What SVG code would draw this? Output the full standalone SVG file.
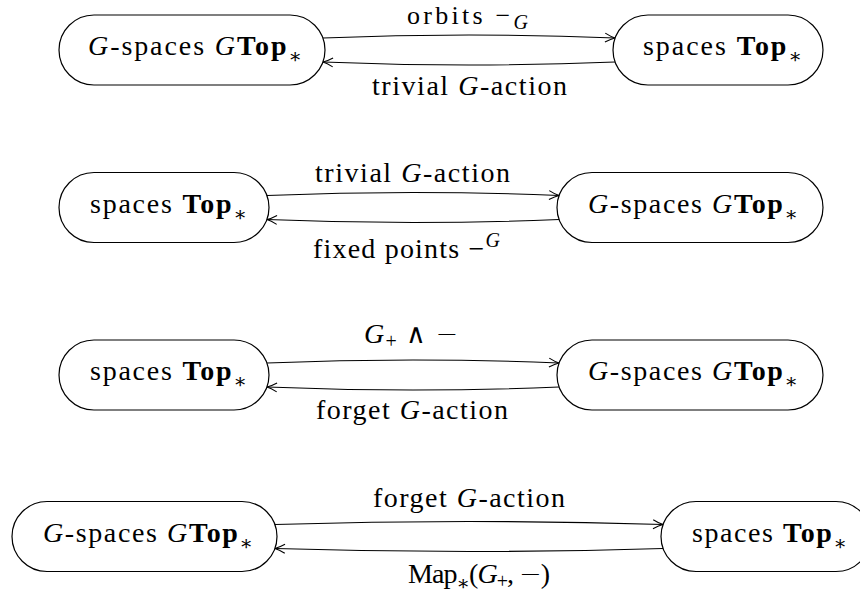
<svg xmlns="http://www.w3.org/2000/svg" width="860" height="594" viewBox="0 0 860 594">
<style>
  .node { fill: #fff; stroke: #000; stroke-width: 1.2; }
  .edge { fill: none; stroke: #000; stroke-width: 1.1; marker-end: url(#arr); }
  text { font-family: "Liberation Serif", "DejaVu Serif", serif; font-size: 28px; fill: #000; }
  .it { font-style: italic; }
  .bf { font-weight: bold; }
  .sm { font-size: 20px; }
  .op { font-family: "DejaVu Sans", sans-serif; font-weight: 200; font-size: 27px; }
</style>
<defs>
  <marker id="arr" markerUnits="userSpaceOnUse" viewBox="-12 -7 14 14" markerWidth="14" markerHeight="14" refX="0" refY="0" orient="auto">
    <path d="M -10 -4.5 Q -4 -1 0 0 Q -4 1 -10 4.5" fill="none" stroke="#000" stroke-width="1.1"/>
  </marker>
</defs>
<rect width="860" height="594" fill="#fff"/>

<g id="connectors">
  <path class="edge" d="M 322.9 38 Q 469 32 615.1 38"/>
  <path class="edge" d="M 615.1 62 Q 469 68 322.9 62"/>
  <path class="edge" d="M 266.9 195.5 Q 413 189.5 559.1 195.5"/>
  <path class="edge" d="M 559.1 219.5 Q 413 225.5 266.9 219.5"/>
  <path class="edge" d="M 266.9 363 Q 413 357 559.1 363"/>
  <path class="edge" d="M 559.1 387 Q 413 393 266.9 387"/>
  <path class="edge" d="M 274.9 524.5 Q 469 518.5 663.1 524.5"/>
  <path class="edge" d="M 663.1 548.5 Q 469 554.5 274.9 548.5"/>
</g>

<g id="labels">
  <text x="407" y="24" textLength="121" style="font-size:26px">orbits −<tspan class="it sm" dy="5">G</tspan></text>
  <text x="372" y="95" textLength="195">trivial <tspan class="it">G</tspan>-action</text>
  <text x="315" y="182" textLength="195">trivial <tspan class="it">G</tspan>-action</text>
  <text x="313" y="258" textLength="187">fixed points −<tspan class="it sm" dy="-11">G</tspan></text>
  <text x="364" y="343" textLength="94"><tspan class="it">G</tspan><tspan class="sm" dy="5">+</tspan><tspan dy="-5"> </tspan><tspan class="op">∧</tspan> <tspan class="op">−</tspan></text>
  <text x="316" y="419" textLength="192">forget <tspan class="it">G</tspan>-action</text>
  <text x="373" y="507" textLength="192">forget <tspan class="it">G</tspan>-action</text>
  <text x="408" y="583" textLength="142">Map<tspan class="sm" dy="7">∗</tspan><tspan dy="-7">(</tspan><tspan class="it">G</tspan><tspan class="sm" dy="5">+</tspan><tspan dy="-5">, </tspan><tspan class="op">−</tspan>)</text>
</g>

<g id="n1L">
  <rect class="node" x="59" y="15" width="266" height="70" rx="35" ry="35"/>
  <text x="88" y="55" textLength="214"><tspan class="it">G</tspan>-spaces <tspan class="it">G</tspan><tspan class="bf">Top</tspan><tspan class="sm" dy="8">∗</tspan></text>
</g>
<g id="n1R">
  <rect class="node" x="613" y="15" width="210" height="70" rx="35" ry="35"/>
  <text x="643" y="55" textLength="159">spaces <tspan class="bf">Top</tspan><tspan class="sm" dy="8">∗</tspan></text>
</g>
<g id="n2L">
  <rect class="node" x="59" y="172.5" width="210" height="70" rx="35" ry="35"/>
  <text x="90" y="212.5" textLength="157">spaces <tspan class="bf">Top</tspan><tspan class="sm" dy="8">∗</tspan></text>
</g>
<g id="n2R">
  <rect class="node" x="557" y="172.5" width="266" height="70" rx="35" ry="35"/>
  <text x="588" y="212.5" textLength="210"><tspan class="it">G</tspan>-spaces <tspan class="it">G</tspan><tspan class="bf">Top</tspan><tspan class="sm" dy="8">∗</tspan></text>
</g>
<g id="n3L">
  <rect class="node" x="59" y="340" width="210" height="70" rx="35" ry="35"/>
  <text x="90" y="380" textLength="157">spaces <tspan class="bf">Top</tspan><tspan class="sm" dy="8">∗</tspan></text>
</g>
<g id="n3R">
  <rect class="node" x="557" y="340" width="266" height="70" rx="35" ry="35"/>
  <text x="588" y="380" textLength="210"><tspan class="it">G</tspan>-spaces <tspan class="it">G</tspan><tspan class="bf">Top</tspan><tspan class="sm" dy="8">∗</tspan></text>
</g>
<g id="n4L">
  <rect class="node" x="12" y="501.5" width="265" height="70" rx="35" ry="35"/>
  <text x="43" y="541.5" textLength="210"><tspan class="it">G</tspan>-spaces <tspan class="it">G</tspan><tspan class="bf">Top</tspan><tspan class="sm" dy="8">∗</tspan></text>
</g>
<g id="n4R">
  <rect class="node" x="661" y="501.5" width="210" height="70" rx="35" ry="35"/>
  <text x="692" y="541.5" textLength="155">spaces <tspan class="bf">Top</tspan><tspan class="sm" dy="8">∗</tspan></text>
</g>
</svg>
